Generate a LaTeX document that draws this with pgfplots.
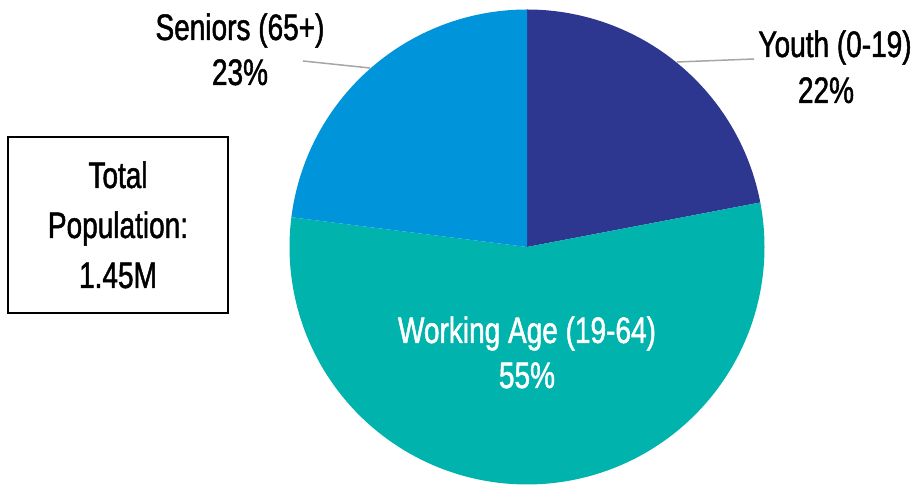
\documentclass[border=0pt]{standalone}
\usepackage{pgfplots}
\pgfplotsset{compat=1.18}
\usepackage{fontspec}
\setmainfont[FakeStretch=0.76, FakeBold=1.3]{Liberation Sans}
\definecolor{youthc}{HTML}{2E3790}
\definecolor{workc}{HTML}{00B3AC}
\definecolor{seniorc}{HTML}{0094DA}
\definecolor{leadc}{HTML}{A6A6A6}
% shares in percent
\def\youth{22}
\def\working{55}
\def\seniors{23}
\begin{document}
\begin{tikzpicture}
\pgfmathsetmacro{\aA}{90}
\pgfmathsetmacro{\aB}{\aA-3.6*\youth}
\pgfmathsetmacro{\aC}{\aB-3.6*\working}
\pgfmathsetmacro{\aD}{\aC-3.6*\seniors}
\def\cx{527}\def\cy{238}\def\R{237.5}
\begin{axis}[
  x=1bp, y=1bp, scale only axis,
  xmin=0, xmax=915, ymin=0, ymax=485,
  hide axis, clip=false,
]
\path (axis cs:0,0) rectangle (axis cs:915,485);
\addplot[fill=youthc, draw=none, domain=\aA:\aB, samples=120]
  ({\cx+\R*cos(x)}, {\cy+\R*sin(x)}) -- (axis cs:\cx,\cy) -- cycle;
\addplot[fill=workc, draw=none, domain=\aB:\aC, samples=240]
  ({\cx+\R*cos(x)}, {\cy+\R*sin(x)}) -- (axis cs:\cx,\cy) -- cycle;
\addplot[fill=seniorc, draw=none, domain=\aC:\aD, samples=120]
  ({\cx+\R*cos(x)}, {\cy+\R*sin(x)}) -- (axis cs:\cx,\cy) -- cycle;
% leader lines
\draw[leadc, line width=1.5bp] (axis cs:303,424) -- (axis cs:370,417);
\draw[leadc, line width=1.5bp] (axis cs:677,423) -- (axis cs:754,426);
% labels
\begin{scope}[every node/.style={inner sep=0pt, anchor=base, font=\fontsize{37}{42}\selectfont}]
\node at (axis cs:240,445) {Seniors (65+)};
\node at (axis cs:240,400) {\seniors\%};
\node at (axis cs:835,428) {Youth (0-19)};
\node at (axis cs:826,382) {\youth\%};
\node[text=white] at (axis cs:527,142) {Working Age (19-64)};
\node[text=white] at (axis cs:527,97) {\working\%};
\node at (axis cs:118,297) {Total};
\node at (axis cs:118,247) {Population:};
\node at (axis cs:118,197) {1.45M};
\end{scope}
\draw[line width=2bp] (axis cs:8,348) rectangle (axis cs:228,172);
\end{axis}
\end{tikzpicture}
\end{document}
